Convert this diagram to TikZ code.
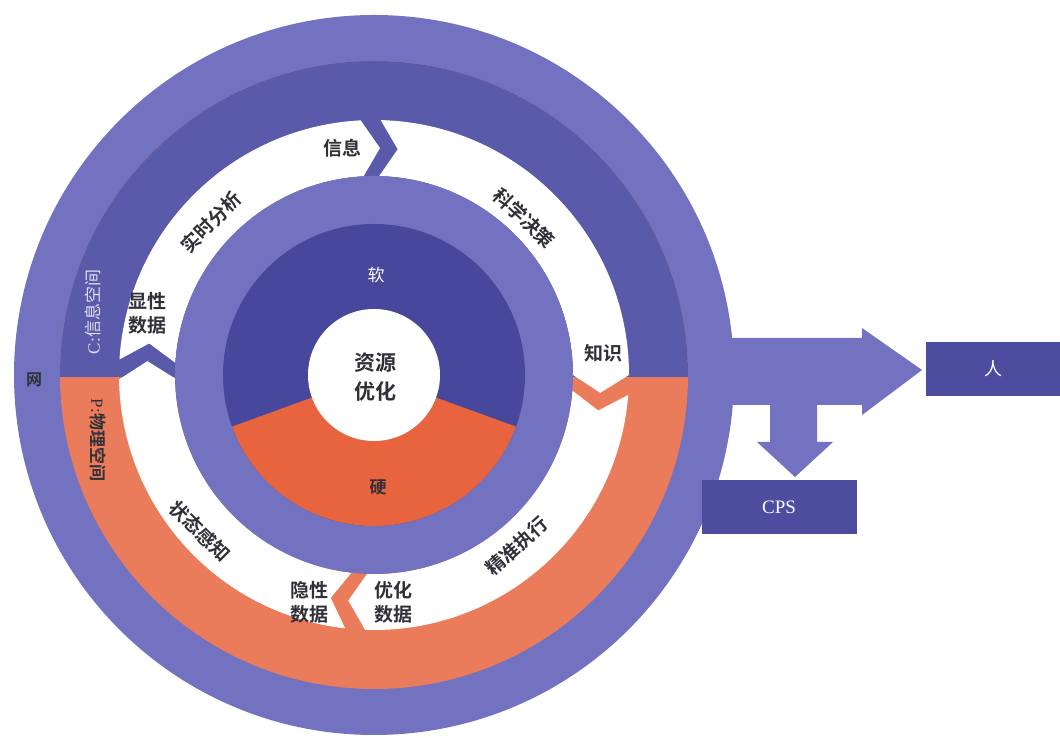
\documentclass[tikz,border=0pt]{standalone}
\usepackage{fontspec}
\setmainfont{Liberation Serif}
\newfontfamily\cjk{Noto Sans CJK SC}
\newfontfamily\cjkb{Noto Sans CJK SC Bold}
\usetikzlibrary{positioning}
\definecolor{ringl}{HTML}{7272C0}
\definecolor{cband}{HTML}{5A5AAA}
\definecolor{pband}{HTML}{EA7B5B}
\definecolor{navy}{HTML}{47479C}
\definecolor{hardc}{HTML}{E8643F}
\definecolor{boxb}{HTML}{4D4DA0}
\definecolor{ink}{HTML}{303038}
% one white piece of the loop: start angle, end angle (clockwise)
\newcommand{\wseg}[2]{%
  \fill[white] (#1:255) -- ({#1-4.5}:227) -- (#1:199)
    arc[start angle=#1, end angle=#2, radius=199] -- ({#2-4.5}:227) -- (#2:255)
    arc[start angle=#2, end angle=#1, radius=255] -- cycle;}

\begin{document}
\begin{tikzpicture}[x=1pt, y=1pt,
    lbl/.style={font=\cjkb\fontsize{19}{24}\selectfont, text=ink, align=center, inner sep=0pt},
    wlbl/.style={font=\cjk\fontsize{17}{20}\selectfont, text=white, inner sep=0pt},
    tag/.style={fill=boxb, text=white, minimum height=54pt, inner sep=0pt}]
  \useasboundingbox (0,0) rectangle (1060,738);
  \coordinate (o) at (374,363);
  % outer ring with the two block arrows
  \fill[ringl] (o) circle (360);
  \fill[ringl] (690,400) -- (862,400) -- (862,410) -- (922,368) -- (862,323) -- (862,333)
    -- (817,333) -- (817,296) -- (833,296) -- (795,261) -- (757,296) -- (770,296)
    -- (770,333) -- (690,333) -- cycle;
  % C / P bands
  \fill[pband] (o) circle (314);
  \begin{scope}
    \clip (0,361) rectangle (760,738);
    \fill[cband] (o) circle (314);
  \end{scope}
  % loop and core
  \begin{scope}[shift={(o)}]
    \wseg{176.5}{93}
    \wseg{88.5}{0}
    \wseg{-4.5}{-92}
    \wseg{-96.5}{-179}
    \fill[ringl] (0,0) circle (199);
    \fill[navy] (0,0) circle (151);
    \fill[hardc] (0,0) -- (200:151) arc[start angle=200, end angle=340, radius=151] -- cycle;
    \fill[white] (0,0) circle (66);
  \end{scope}

  \node[lbl, font=\cjkb\fontsize{21}{29}\selectfont] (resopt) at (375,361) {资源\\优化};
  \node[wlbl] (soft) at (376,463) {软};
  \node[lbl, font=\cjkb\fontsize{17}{20}\selectfont] (hardw) at (378,251) {硬};
  \node[lbl] (info) at (342,590) {信息};
  \node[lbl, rotate=45] (analy) at (211,516) {实时分析};
  \node[lbl, rotate=-43] (decide) at (524,520) {科学决策};
  \node[lbl] (know) at (603,385) {知识};
  \node[lbl] (explicit) at (147,425) {显性\\数据};
  \node[lbl, rotate=42] (exec) at (517,192) {精准执行};
  \node[lbl] (optdata) at (393,136) {优化\\数据};
  \node[lbl] (implicit) at (309,136) {隐性\\数据};
  \node[lbl, rotate=-45] (sense) at (200,207) {状态感知};
  \node[font=\cjk\fontsize{17}{20}\selectfont, text=white!80!cband, rotate=90] (cyber) at (93,426) {{\rmfamily C:}信息空间};
  \node[font=\cjkb\fontsize{17}{20}\selectfont, text=ink, rotate=-90] (phys) at (98,298) {{\rmfamily P:}物理空间};
  \node[lbl, font=\cjkb\fontsize{16}{20}\selectfont] (net) at (34,358) {网};
  \node[tag, minimum width=134pt, font=\cjk\fontsize{18}{20}\selectfont] (ren) at (993,369) {人};
  \node[tag, minimum width=155pt, font=\rmfamily\fontsize{19}{22}\selectfont] (cps) at (779,231) {CPS};
\end{tikzpicture}
\end{document}
